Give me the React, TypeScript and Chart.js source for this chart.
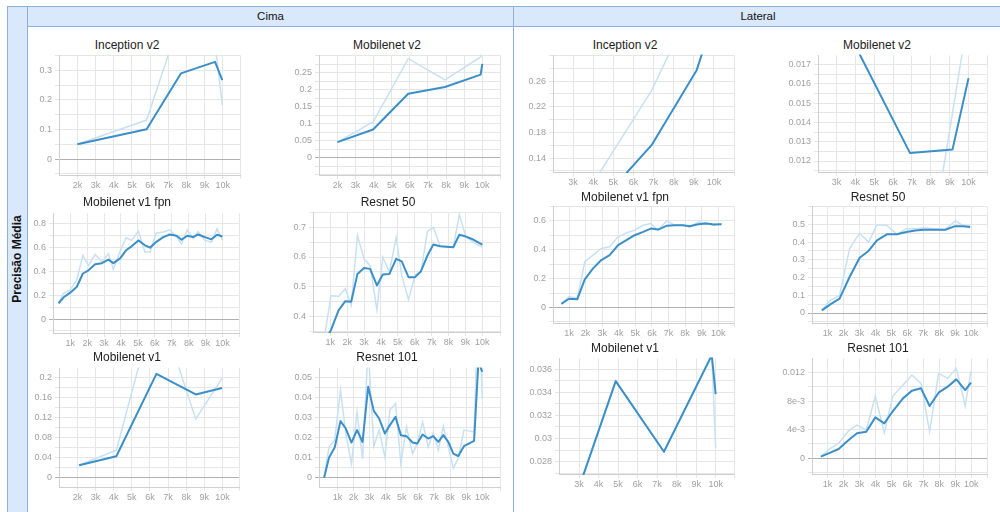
import React, { useEffect, useRef } from 'react';
import { Chart, registerables } from 'chart.js';

Chart.register(...registerables);

// ---------------- DATA ----------------
// Cima
const cimaInceptionSteps = [2000, 5810, 7700, 9580, 9980];
const cimaInceptionRaw = [0.05, 0.132, 0.48, 0.394, 0.183];
const cimaInceptionSmooth = [0.05, 0.101, 0.29, 0.329, 0.267];

const cimaMobilenetV2Steps = [2000, 3970, 5910, 7940, 9910, 10000];
const cimaMobilenetV2Raw = [0.046, 0.105, 0.291, 0.229, 0.296, 0.33];
const cimaMobilenetV2Smooth = [0.046, 0.083, 0.188, 0.208, 0.244, 0.276];

const cimaFpnSteps = [310, 610, 1000, 1390, 1750, 2080, 2470, 2870, 3260, 3550, 3950, 4300, 4630, 5030, 5420, 5720, 6070, 6500, 6890, 7290, 7580, 7920, 8270, 8560, 8960, 9350, 9680, 10000];
const cimaFpnRaw = [0.133, 0.217, 0.244, 0.33, 0.536, 0.45, 0.544, 0.48, 0.55, 0.417, 0.572, 0.683, 0.661, 0.739, 0.564, 0.564, 0.722, 0.731, 0.75, 0.689, 0.633, 0.75, 0.675, 0.736, 0.661, 0.647, 0.758, 0.667];
const cimaFpnSmooth = [0.133, 0.183, 0.222, 0.272, 0.383, 0.41, 0.46, 0.47, 0.5, 0.47, 0.51, 0.578, 0.611, 0.661, 0.62, 0.6, 0.647, 0.689, 0.711, 0.7, 0.667, 0.7, 0.689, 0.711, 0.689, 0.67, 0.708, 0.694];

const cimaResnet50Steps = [600, 1040, 1490, 1890, 2240, 2610, 3000, 3360, 3760, 4110, 4500, 4900, 5230, 5630, 6020, 6370, 6750, 7100, 7500, 7890, 8280, 8640, 9030, 9460, 10000];
const cimaResnet50Raw = [0.31, 0.47, 0.467, 0.493, 0.437, 0.672, 0.594, 0.571, 0.422, 0.599, 0.549, 0.667, 0.538, 0.456, 0.54, 0.549, 0.687, 0.7, 0.638, 0.633, 0.633, 0.743, 0.667, 0.65, 0.633];
const cimaResnet50Smooth = [0.31, 0.353, 0.42, 0.451, 0.449, 0.543, 0.563, 0.56, 0.504, 0.541, 0.543, 0.594, 0.585, 0.532, 0.532, 0.552, 0.605, 0.642, 0.636, 0.635, 0.633, 0.675, 0.669, 0.659, 0.642];

const cimaMobilenetV1Steps = [2090, 4150, 6360, 8530, 9980];
const cimaMobilenetV1Raw = [0.0247, 0.0547, 0.355, 0.117, 0.198];
const cimaMobilenetV1Smooth = [0.0247, 0.0427, 0.207, 0.166, 0.179];

const cimaResnet101Steps = [170, 480, 830, 1190, 1520, 1870, 2220, 2560, 2910, 3260, 3590, 3950, 4260, 4610, 4940, 5290, 5670, 5960, 6290, 6640, 6950, 7270, 7580, 7890, 8200, 8510, 8860, 9490, 9760, 10000];
const cimaResnet101Raw = [0, 0.0153, 0.0187, 0.0437, 0.022, 0.007, 0.0328, 0.0095, 0.065, 0.0157, 0.0237, 0.0103, 0.0337, 0.037, 0.007, 0.0253, 0.012, 0.017, 0.0278, 0.0153, 0.0223, 0.0137, 0.0257, 0.0153, 0.0048, 0.0095, 0.0237, 0.0228, 0.09, 0.0395];
const cimaResnet101Smooth = [0, 0.01, 0.015, 0.0282, 0.0245, 0.0175, 0.0237, 0.0178, 0.0453, 0.0333, 0.0295, 0.022, 0.0262, 0.0303, 0.0212, 0.0207, 0.0175, 0.017, 0.0215, 0.0195, 0.0207, 0.0178, 0.0212, 0.0178, 0.012, 0.0108, 0.0157, 0.0183, 0.058, 0.0528];

// Lateral
const latInceptionSteps = [3300, 4600, 6900, 9140, 10000];
const latInceptionRaw = [0.067, 0.131, 0.245, 0.393, 0.45];
const latInceptionSmooth = [0.067, 0.08, 0.16, 0.277, 0.36];

const latMobilenetV2Steps = [3300, 6900, 9150, 10000];
const latMobilenetV2Raw = [null, 0.00102, 0.01448, 0.0196];
const latMobilenetV2Smooth = [0.0193, 0.01241, 0.01259, 0.01629];

const latFpnSteps = [540, 1000, 1500, 1950, 2450, 2950, 3450, 3960, 4460, 4960, 5470, 5930, 6370, 6880, 7380, 7880, 8280, 8790, 9290, 9730, 10200];
const latFpnRaw = [0.025, 0.076, 0.064, 0.317, 0.363, 0.409, 0.421, 0.49, 0.517, 0.536, 0.57, 0.582, 0.536, 0.6, 0.57, 0.57, 0.559, 0.593, 0.586, 0.57, 0.582];
const latFpnSmooth = [0.025, 0.06, 0.057, 0.195, 0.271, 0.329, 0.363, 0.432, 0.467, 0.501, 0.524, 0.547, 0.54, 0.566, 0.57, 0.57, 0.563, 0.577, 0.582, 0.575, 0.577];

const latResnet50Steps = [640, 1170, 1750, 2380, 3010, 3570, 4100, 4720, 5350, 5940, 6500, 7030, 7650, 8380, 9010, 9490, 9950];
const latResnet50Raw = [0.015, 0.071, 0.1, 0.363, 0.451, 0.4, 0.498, 0.494, 0.444, 0.476, 0.476, 0.48, 0.476, 0.47, 0.519, 0.494, 0.489];
const latResnet50Smooth = [0.015, 0.049, 0.081, 0.203, 0.312, 0.35, 0.41, 0.444, 0.444, 0.457, 0.466, 0.47, 0.47, 0.47, 0.49, 0.489, 0.485];

const latMobilenetV1Steps = [2800, 4880, 7350, 9800, 10000];
const latMobilenetV1Raw = [0.02479, 0.03496, 0.02886, 0.0372, 0.0292];
const latMobilenetV1Smooth = [0.02479, 0.03496, 0.02886, 0.0372, 0.03384];

const latResnet101Steps = [580, 1170, 1690, 2320, 2840, 3420, 3990, 4550, 5090, 5720, 6280, 6850, 7390, 7950, 8520, 9060, 9620, 9980];
const latResnet101Raw = [0.00023, 0.0014, 0.0021, 0.00386, 0.00465, 0.00395, 0.0087, 0.00358, 0.0087, 0.01023, 0.01163, 0.01047, 0.00372, 0.01186, 0.01116, 0.01256, 0.0073, 0.01223];
const latResnet101Smooth = [0.00023, 0.00079, 0.0013, 0.00256, 0.00349, 0.00372, 0.00572, 0.00488, 0.0066, 0.00837, 0.00944, 0.00977, 0.0073, 0.00916, 0.01, 0.01102, 0.00953, 0.01056];

// Tick labels
const xTicks1to10 = [1000, 2000, 3000, 4000, 5000, 6000, 7000, 8000, 9000, 10000];
const xTicks2to10 = [2000, 3000, 4000, 5000, 6000, 7000, 8000, 9000, 10000];
const xTicks3to10 = [3000, 4000, 5000, 6000, 7000, 8000, 9000, 10000];

const yTicksA = [0, 0.1, 0.2, 0.3];
const yLabelsA = ['0', '0.1', '0.2', '0.3'];
const yTicksB = [0, 0.05, 0.1, 0.15, 0.2, 0.25];
const yLabelsB = ['0', '0.05', '0.1', '0.15', '0.2', '0.25'];
const yTicksC = [0, 0.2, 0.4, 0.6, 0.8];
const yLabelsC = ['0', '0.2', '0.4', '0.6', '0.8'];
const yTicksD = [0.4, 0.5, 0.6, 0.7];
const yLabelsD = ['0.4', '0.5', '0.6', '0.7'];
const yTicksE = [0, 0.04, 0.08, 0.12, 0.16, 0.2];
const yLabelsE = ['0', '0.04', '0.08', '0.12', '0.16', '0.2'];
const yTicksF = [0, 0.01, 0.02, 0.03, 0.04, 0.05];
const yLabelsF = ['0', '0.01', '0.02', '0.03', '0.04', '0.05'];
const yTicksG = [0.14, 0.18, 0.22, 0.26];
const yLabelsG = ['0.14', '0.18', '0.22', '0.26'];
const yTicksH = [0.012, 0.013, 0.014, 0.015, 0.016, 0.017];
const yLabelsH = ['0.012', '0.013', '0.014', '0.015', '0.016', '0.017'];
const yTicksI = [0, 0.2, 0.4, 0.6];
const yLabelsI = ['0', '0.2', '0.4', '0.6'];
const yTicksJ = [0, 0.1, 0.2, 0.3, 0.4, 0.5];
const yLabelsJ = ['0', '0.1', '0.2', '0.3', '0.4', '0.5'];
const yTicksK = [0.028, 0.03, 0.032, 0.034, 0.036];
const yLabelsK = ['0.028', '0.03', '0.032', '0.034', '0.036'];
const yTicksL = [0, 0.004, 0.008, 0.012];
const yLabelsL = ['0', '4e-3', '8e-3', '0.012'];

// ---------------- LAYOUT ----------------
type Panel = {
  title: string; tx: number; ty: number;
  l: number; t: number; r: number; b: number;
  xMin: number; xMax: number; yMin: number; yMax: number;
  xTicks: number[]; yTicks: number[]; yLabels: string[]; yMinor: number;
  steps: number[]; raw: (number | null)[]; smooth: number[];
};

const panels: Panel[] = [
  { title: 'Inception v2', tx: 127, ty: 45, l: 59, t: 55, r: 240, b: 175, xMin: 985, xMax: 10955, yMin: -0.054, yMax: 0.351, xTicks: xTicks2to10, yTicks: yTicksA, yLabels: yLabelsA, yMinor: 0.05, steps: cimaInceptionSteps, raw: cimaInceptionRaw, smooth: cimaInceptionSmooth },
  { title: 'Mobilenet v2', tx: 387, ty: 45, l: 319, t: 55, r: 500, b: 175, xMin: 982, xMax: 10979, yMin: -0.0506, yMax: 0.3006, xTicks: xTicks2to10, yTicks: yTicksB, yLabels: yLabelsB, yMinor: 0.025, steps: cimaMobilenetV2Steps, raw: cimaMobilenetV2Raw, smooth: cimaMobilenetV2Smooth },
  { title: 'Mobilenet v1 fpn', tx: 127, ty: 202, l: 53, t: 213, r: 239, b: 333, xMin: -19, xMax: 10978, yMin: -0.117, yMax: 0.888, xTicks: xTicks1to10, yTicks: yTicksC, yLabels: yLabelsC, yMinor: 0.1, steps: cimaFpnSteps, raw: cimaFpnRaw, smooth: cimaFpnSmooth },
  { title: 'Resnet 50', tx: 388, ty: 202, l: 313, t: 212, r: 500, b: 332, xMin: -22, xMax: 11046, yMin: 0.347, yMax: 0.7505, xTicks: xTicks1to10, yTicks: yTicksD, yLabels: yLabelsD, yMinor: 0.05, steps: cimaResnet50Steps, raw: cimaResnet50Raw, smooth: cimaResnet50Smooth },
  { title: 'Mobilenet v1', tx: 127, ty: 357, l: 59, t: 368, r: 239, b: 487, xMin: 985, xMax: 10916, yMin: -0.0187, yMax: 0.218, xTicks: xTicks2to10, yTicks: yTicksE, yLabels: yLabelsE, yMinor: 0.02, steps: cimaMobilenetV1Steps, raw: cimaMobilenetV1Raw, smooth: cimaMobilenetV1Smooth },
  { title: 'Resnet 101', tx: 387, ty: 357, l: 319, t: 368, r: 500, b: 487, xMin: -145, xMax: 11101, yMin: -0.00467, yMax: 0.0545, xTicks: xTicks1to10, yTicks: yTicksF, yLabels: yLabelsF, yMinor: 0.005, steps: cimaResnet101Steps, raw: cimaResnet101Raw, smooth: cimaResnet101Smooth },
  { title: 'Inception v2', tx: 625, ty: 45, l: 553, t: 55, r: 734, b: 172, xMin: 2005, xMax: 10995, yMin: 0.1182, yMax: 0.3, xTicks: xTicks3to10, yTicks: yTicksG, yLabels: yLabelsG, yMinor: 0.02, steps: latInceptionSteps, raw: latInceptionRaw, smooth: latInceptionSmooth },
  { title: 'Mobilenet v2', tx: 877, ty: 45, l: 818, t: 55, r: 987, b: 172, xMin: 2021, xMax: 10979, yMin: 0.011431, yMax: 0.017466, xTicks: xTicks3to10, yTicks: yTicksH, yLabels: yLabelsH, yMinor: 0.0005, steps: latMobilenetV2Steps, raw: latMobilenetV2Raw, smooth: latMobilenetV2Smooth },
  { title: 'Mobilenet v1 fpn', tx: 625, ty: 197, l: 553, t: 206, r: 734, b: 323, xMin: 34, xMax: 10948, yMin: -0.108, yMax: 0.701, xTicks: xTicks1to10, yTicks: yTicksI, yLabels: yLabelsI, yMinor: 0.1, steps: latFpnSteps, raw: latFpnRaw, smooth: latFpnSmooth },
  { title: 'Resnet 50', tx: 878, ty: 197, l: 812, t: 206, r: 987, b: 323, xMin: 21, xMax: 11004, yMin: -0.0564, yMax: 0.6015, xTicks: xTicks1to10, yTicks: yTicksJ, yLabels: yLabelsJ, yMinor: 0.05, steps: latResnet50Steps, raw: latResnet50Raw, smooth: latResnet50Smooth },
  { title: 'Mobilenet v1', tx: 625, ty: 348, l: 559, t: 358, r: 734, b: 474, xMin: 1974, xMax: 10939, yMin: 0.02694, yMax: 0.03692, xTicks: xTicks3to10, yTicks: yTicksK, yLabels: yLabelsK, yMinor: 0.001, steps: latMobilenetV1Steps, raw: latMobilenetV1Raw, smooth: latMobilenetV1Smooth },
  { title: 'Resnet 101', tx: 878, ty: 348, l: 812, t: 358, r: 987, b: 474, xMin: 23, xMax: 10983, yMin: -0.00219, yMax: 0.01395, xTicks: xTicks1to10, yTicks: yTicksL, yLabels: yLabelsL, yMinor: 0.002, steps: latResnet101Steps, raw: latResnet101Raw, smooth: latResnet101Smooth },
];

const DARK = '#3b8fc8';
const LIGHT = '#c8e1f2';
const GRID = '#e6e6e6';
const ZERO = '#b0b0b0';
const AXIS = '#cfcfcf';
const TICK_TEXT = '#a0a0a0';
const FONT = '"Liberation Sans", Arial, sans-serif';

const WY = 45;
const HX = 22;
const PT = 8;
const PR = 8;

function gridValues(p: Panel): number[] {
  const base = p.yTicks[0];
  const kMin = Math.ceil((p.yMin - base) / p.yMinor - 1e-9);
  const kMax = Math.floor((p.yMax - base) / p.yMinor + 1e-9);
  const out: number[] = [];
  for (let k = kMin; k <= kMax; k++) out.push(+(base + k * p.yMinor).toFixed(10));
  return out;
}

function SmallChart({ p }: { p: Panel }) {
  const ref = useRef<HTMLCanvasElement | null>(null);
  const w = p.r - p.l + WY + PR;
  const h = p.b - p.t + PT + HX;

  useEffect(() => {
    if (!ref.current) return;
    const yGrid = gridValues(p);
    const xGrid = [...p.xTicks, p.xMax];
    const chart = new Chart(ref.current, {
      type: 'line',
      data: {
        datasets: [
          {
            data: p.steps.map((s, i) => ({ x: s, y: p.smooth[i] })),
            borderColor: DARK, borderWidth: 2, pointRadius: 0, tension: 0,
            order: 0, clip: 1, spanGaps: false, borderJoinStyle: 'round',
          },
          {
            data: p.steps.map((s, i) => ({ x: s, y: p.raw[i] as any })),
            borderColor: LIGHT, borderWidth: 1.5, pointRadius: 0, tension: 0,
            order: 1, clip: 1, spanGaps: false,
          },
        ],
      },
      options: {
        animation: false,
        responsive: false,
        devicePixelRatio: 1,
        events: [],
        layout: { padding: { top: PT, right: PR, left: 0, bottom: 0 } },
        plugins: { legend: { display: false }, tooltip: { enabled: false }, title: { display: false } },
        scales: {
          x: {
            type: 'linear', min: p.xMin, max: p.xMax,
            afterBuildTicks: (s: any) => { s.ticks = xGrid.map((v) => ({ value: v })); },
            afterFit: (s: any) => { s.height = HX; },
            ticks: {
              autoSkip: false, maxRotation: 0, minRotation: 0, padding: 1,
              color: TICK_TEXT, font: { family: FONT, size: 9 },
              callback: (v: any) => (p.xTicks.includes(v) ? `${v / 1000}k` : ''),
            },
            grid: { color: GRID, tickLength: 4, drawTicks: true, lineWidth: 1 },
            border: { color: AXIS, width: 1 },
          },
          y: {
            type: 'linear', min: p.yMin, max: p.yMax,
            afterBuildTicks: (s: any) => { s.ticks = yGrid.map((v) => ({ value: v })); },
            afterFit: (s: any) => { s.width = WY; },
            ticks: {
              autoSkip: false, padding: 3,
              color: TICK_TEXT, font: { family: FONT, size: 9 },
              callback: (v: any) => {
                const i = p.yTicks.findIndex((t) => Math.abs(t - v) < p.yMinor * 0.01);
                return i >= 0 ? p.yLabels[i] : '';
              },
            },
            grid: {
              color: (ctx: any) => (ctx.tick && Math.abs(ctx.tick.value) < 1e-12 ? ZERO : GRID),
              tickLength: 4, drawTicks: true, lineWidth: 1,
            },
            border: { color: AXIS, width: 1 },
          },
        },
      } as any,
    });
    return () => chart.destroy();
  }, []);

  return (
    <>
      <div
        style={{
          position: 'absolute', left: p.tx - 100, width: 200, top: p.ty - 8, height: 16,
          lineHeight: '16px', textAlign: 'center', fontFamily: FONT, fontSize: 12, color: '#222',
        }}
      >
        {p.title}
      </div>
      <canvas
        ref={ref}
        width={w}
        height={h}
        style={{ position: 'absolute', left: p.l - WY, top: p.t - PT, width: w, height: h }}
      />
    </>
  );
}

const HEAD_BG = '#dae8fc';
const HEAD_BORDER = '#8fb0dc';

export default function App() {
  return (
    <div
      style={{
        position: 'absolute', left: 0, top: 0, width: 1000, height: 512, overflow: 'hidden',
        background: '#fff', fontFamily: FONT,
      }}
    >
      {/* left strip */}
      <div
        style={{
          position: 'absolute', left: 7, top: 6, width: 21, height: 510, boxSizing: 'border-box',
          background: HEAD_BG, border: `1px solid ${HEAD_BORDER}`,
        }}
      />
      <div
        style={{
          position: 'absolute', left: 17, top: 259, width: 200, height: 16, lineHeight: '16px',
          transform: 'translate(-50%, -50%) rotate(-90deg)', textAlign: 'center',
          fontWeight: 'bold', fontSize: 12, color: '#111',
        }}
      >
        Precisão Média
      </div>
      {/* headers */}
      <div
        style={{
          position: 'absolute', left: 27, top: 6, width: 487, height: 21, boxSizing: 'border-box',
          background: HEAD_BG, border: `1px solid ${HEAD_BORDER}`, textAlign: 'center',
          fontSize: 11.5, lineHeight: '19px', color: '#111',
        }}
      >
        Cima
      </div>
      <div
        style={{
          position: 'absolute', left: 513, top: 6, width: 490, height: 21, boxSizing: 'border-box',
          background: HEAD_BG, border: `1px solid ${HEAD_BORDER}`, textAlign: 'center',
          fontSize: 11.5, lineHeight: '19px', color: '#111',
        }}
      >
        Lateral
      </div>
      {/* divider */}
      <div style={{ position: 'absolute', left: 513, top: 26, width: 1, height: 490, background: HEAD_BORDER }} />
      {panels.map((p, i) => (
        <SmallChart key={i} p={p} />
      ))}
    </div>
  );
}
